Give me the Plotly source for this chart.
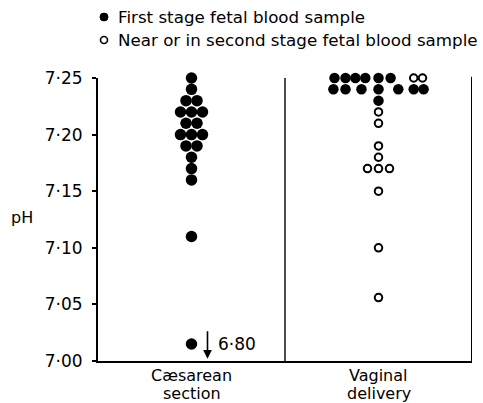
import plotly.graph_objects as go

# ---------------- data ----------------
categories = ["Cæsarean<br>section", "Vaginal<br>delivery"]
y_ticks = [7.00, 7.05, 7.10, 7.15, 7.20, 7.25]
y_tick_labels = ["7·00", "7·05", "7·10", "7·15", "7·20", "7·25"]

# Caesarean section: first stage samples (pH, swarm column)
cs_ph = [7.25, 7.24, 7.23, 7.23, 7.22, 7.22, 7.22, 7.21, 7.21,
         7.20, 7.20, 7.20, 7.19, 7.19, 7.18, 7.17, 7.16, 7.11]
cs_col = [0, 0, -0.5, 0.5, -1, 0, 1, -0.5, 0.5,
          -1, 0, 1, -0.5, 0.5, 0, 0, 0, 0]
# off-scale value (6.80), shown at the bottom with an arrow
cs_low_value = 6.80
cs_low_shown = 7.015

# Vaginal delivery: first stage samples
vg_first_ph = [7.25, 7.25, 7.25, 7.25, 7.25, 7.25,
               7.24, 7.24, 7.24, 7.24, 7.24, 7.24, 7.24,
               7.23]
vg_first_col = [-4.0, -3.0, -2.1, -1.2, 0, 1.1,
                -4.1, -3.0, -1.55, 0, 1.8, 3.2, 4.1,
                0]
# Vaginal delivery: near or in second stage samples
vg_second_ph = [7.25, 7.25, 7.22, 7.21, 7.19, 7.18,
                7.17, 7.17, 7.17, 7.15, 7.10, 7.056]
vg_second_col = [3.2, 4.0, 0, 0, 0, 0,
                 -1, 0, 1, 0, 0, 0]

legend_labels = ["First stage fetal blood sample",
                 "Near or in second stage fetal blood sample"]

# ---------------- layout helpers ----------------
CENTER = {"cs": 0.5, "vg": 1.5}
STEP = 11 / 187.0   # one dot width in x data units

def xs(center, cols):
    return [center + c * STEP for c in cols]

FONT = "DejaVu Sans"

fig = go.Figure()

fig.add_trace(go.Scatter(
    x=xs(CENTER["cs"], cs_col) + [CENTER["cs"]],
    y=cs_ph + [cs_low_shown],
    mode="markers", cliponaxis=False, showlegend=False,
    marker=dict(symbol="circle", size=11.5, color="black", line=dict(width=0)),
    name=legend_labels[0]))

fig.add_trace(go.Scatter(
    x=xs(CENTER["vg"], vg_first_col), y=vg_first_ph,
    mode="markers", cliponaxis=False, showlegend=False,
    marker=dict(symbol="circle", size=10.5, color="black", line=dict(width=0)),
    name=legend_labels[0]))

fig.add_trace(go.Scatter(
    x=xs(CENTER["vg"], vg_second_col), y=vg_second_ph,
    mode="markers", cliponaxis=False, showlegend=False,
    marker=dict(symbol="circle-open", size=7.5, color="black",
                line=dict(width=2, color="black")),
    name=legend_labels[1]))

shapes = []
# right frame line and middle divider
shapes.append(dict(type="line", xref="x", yref="paper", x0=2, x1=2, y0=0, y1=1.004,
                   line=dict(color="black", width=2)))
shapes.append(dict(type="line", xref="x", yref="paper", x0=1, x1=1, y0=0, y1=1,
                   line=dict(color="black", width=1.4)))

# legend symbols (pixel-sized circles placed in paper coordinates)
PW, PH = 374.0, 283.0
def px_x(px):
    return (px - 98) / PW
def px_y(py):
    return (361 - py) / PH

shapes.append(dict(type="circle", xref="paper", yref="paper",
                   xsizemode="pixel", ysizemode="pixel",
                   xanchor=px_x(104), yanchor=px_y(17),
                   x0=-4, x1=4, y0=-4, y1=4,
                   fillcolor="black", line=dict(color="black", width=1)))
shapes.append(dict(type="circle", xref="paper", yref="paper",
                   xsizemode="pixel", ysizemode="pixel",
                   xanchor=px_x(104), yanchor=px_y(40),
                   x0=-3.5, x1=3.5, y0=-3.5, y1=3.5,
                   fillcolor="white", line=dict(color="black", width=1.6)))

annotations = []
annotations.append(dict(xref="paper", yref="paper", x=px_x(116), y=px_y(17),
                        xanchor="left", yanchor="middle", showarrow=False,
                        text=legend_labels[0], font=dict(family=FONT, size=16.7, color="black")))
annotations.append(dict(xref="paper", yref="paper", x=px_x(116), y=px_y(40),
                        xanchor="left", yanchor="middle", showarrow=False,
                        text=legend_labels[1], font=dict(family=FONT, size=16.7, color="black")))
# pH label
annotations.append(dict(xref="paper", yref="paper", x=px_x(9), y=px_y(217),
                        xanchor="left", yanchor="middle", showarrow=False,
                        text="pH", font=dict(family=FONT, size=16, color="black")))
# arrow for off-scale value
annotations.append(dict(xref="x", yref="y", x=CENTER["cs"] + 16 / 187.0, y=7.002,
                        ax=0, ay=-29, axref="pixel", ayref="pixel",
                        showarrow=True, arrowhead=2, arrowsize=1.1, arrowwidth=1.6,
                        arrowcolor="black", text=""))
annotations.append(dict(xref="x", yref="y", x=CENTER["cs"] + 24 / 187.0, y=cs_low_shown,
                        xanchor="left", yanchor="middle", showarrow=False,
                        text=f"{cs_low_value:.2f}".replace(".", "·"),
                        font=dict(family=FONT, size=17, color="black")))
# category labels (two lines each, set below the axis)
for cx, label in zip([CENTER["cs"], CENTER["vg"]], categories):
    for i, line in enumerate(label.split("<br>")):
        annotations.append(dict(xref="x", yref="paper", x=cx, y=px_y(375 + 18.5 * i),
                                xanchor="center", yanchor="middle", showarrow=False,
                                text=line, font=dict(family=FONT, size=16, color="black")))

fig.update_layout(
    width=483, height=403,
    margin=dict(l=98, r=11, t=78, b=42, autoexpand=False),
    paper_bgcolor="white", plot_bgcolor="white",
    showlegend=False,
    shapes=shapes, annotations=annotations,
    font=dict(family=FONT, color="black"),
)
fig.update_xaxes(range=[0, 2], tickvals=[CENTER["cs"], CENTER["vg"]],
                 showticklabels=False,
                 showgrid=False, zeroline=False, showline=True, linecolor="black",
                 linewidth=2, ticks="", automargin=False, fixedrange=True)
fig.update_yaxes(range=[7.0, 7.25], tickvals=y_ticks, ticktext=y_tick_labels,
                 showgrid=False, zeroline=False, showline=True, linecolor="black",
                 linewidth=2, ticks="outside", ticklen=4, tickwidth=2, tickcolor="black",
                 ticklabelstandoff=6, automargin=False,
                 tickfont=dict(family=FONT, size=17), fixedrange=True)

fig.write_html(
    "out.html",
    config={"displayModeBar": False},
    post_script="document.body.style.margin='0';document.body.style.padding='0';"
                "document.body.style.overflow='hidden';",
)
